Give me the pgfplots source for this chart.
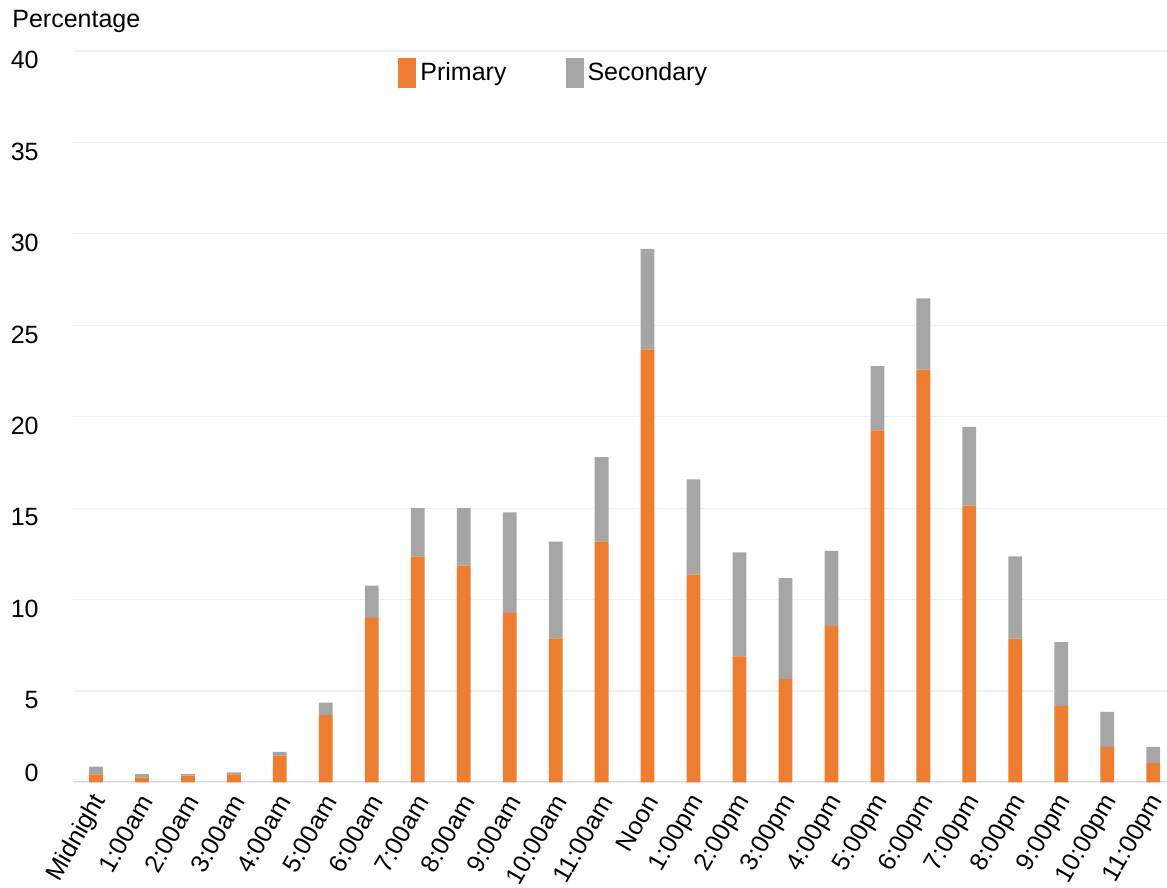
\documentclass[border=0pt]{standalone}
\usepackage{pgfplots}
\pgfplotsset{compat=1.18}
\usepackage{pgfplotstable}
\usepackage{fontspec}
\setmainfont{Liberation Sans}

\definecolor{primaryorange}{HTML}{ED7D31}
\definecolor{secondarygray}{HTML}{A5A5A5}
\definecolor{gridgray}{HTML}{EFEFEF}
\definecolor{basegray}{HTML}{D9D9D9}

% Share of trips by hour of day (percent)
\pgfplotstableread{
idx primary secondary
0  0.45 0.42
1  0.26 0.21
2  0.37 0.10
3  0.45 0.11
4  1.47 0.20
5  3.68 0.69
6  9.00 1.77
7  12.37 2.63
8  11.86 3.14
9  9.27 5.50
10 7.88 5.29
11 13.19 4.60
12 23.68 5.50
13 11.37 5.21
14 6.89 5.69
15 5.66 5.51
16 8.56 4.10
17 19.25 3.52
18 22.57 3.90
19 15.14 4.31
20 7.87 4.50
21 4.17 3.50
22 1.95 1.91
23 1.06 0.89
}\hourly

\begin{document}
\begin{tikzpicture}
\begin{axis}[
  scale only axis,
  width=547pt, height=365.75pt,
  at={(0,0)}, anchor=south west,
  xmin=-0.5, xmax=23.3,
  ymin=0, ymax=40,
  ybar stacked, bar width=0.3,
  axis x line*=bottom, axis y line*=left,
  x axis line style={basegray, line width=1pt},
  y axis line style={draw=none},
  tick style={draw=none},
  major tick length=0pt,
  ymajorgrids,
  grid style={gridgray, line width=0.6pt},
  ytick={5,10,...,40},
  extra y ticks={0},
  extra y tick style={yticklabel style={anchor=south east}},
  yticklabel style={anchor=north east, inner sep=0pt, xshift=-17pt},
  /pgf/number format/assume math mode=true,
  tick label style={font=\fontsize{12.5}{14}\selectfont},
  xtick={0,...,23},
  xticklabels={Midnight,1:00am,2:00am,3:00am,4:00am,5:00am,6:00am,7:00am,8:00am,9:00am,10:00am,11:00am,Noon,1:00pm,2:00pm,3:00pm,4:00pm,5:00pm,6:00pm,7:00pm,8:00pm,9:00pm,10:00pm,11:00pm},
  xticklabel style={xshift=3pt, yshift=-6.5pt, rotate=60, anchor=east, inner sep=1pt},
  legend columns=2,
  legend style={draw=none, fill=none, at={(rel axis cs:0.2971,0.970)}, anchor=west,
    inner sep=0pt, font=\fontsize{12.5}{14}\selectfont,
    /tikz/every even column/.append style={column sep=27.5pt}},
  clip=false,
]
\addplot[fill=primaryorange, draw=none,
  legend image code/.code={\fill[primaryorange] (0pt,-7.5pt) rectangle (9pt,7.5pt);}]
  table[x=idx, y=primary] {\hourly};
\addlegendentry{Primary}
\addplot[fill=secondarygray, draw=none,
  legend image code/.code={\fill[secondarygray] (0pt,-7.5pt) rectangle (9pt,7.5pt);}]
  table[x=idx, y=secondary] {\hourly};
\addlegendentry{Secondary}
\node[anchor=base west, inner sep=0pt, xshift=-30.5pt, yshift=11.5pt, font=\fontsize{12.5}{14}\selectfont]
  at (rel axis cs:0,1) {Percentage};
\end{axis}
\pgfresetboundingbox
\useasboundingbox (-36.5pt,-52.75pt) rectangle (547pt,391.25pt);
\end{tikzpicture}
\end{document}
